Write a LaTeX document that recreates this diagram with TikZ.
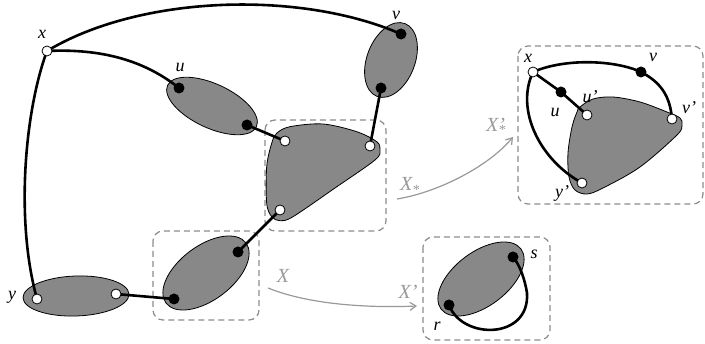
\documentclass[tikz,border=0pt]{standalone}
\usepackage{fontspec}
\setmainfont{Liberation Serif}
\usetikzlibrary{arrows.meta}
\definecolor{blobgray}{HTML}{888888}
\definecolor{boxgray}{HTML}{8C8C8C}
\definecolor{arrgray}{HTML}{999999}
\begin{document}
\begin{tikzpicture}[x=1pt,y=-1pt,
 blob/.style={fill=blobgray,draw=black,line width=0.8pt},
 edge/.style={line width=2.6pt},
 openv/.style={circle,draw=black,fill=white,line width=0.8pt,inner sep=0pt,minimum size=10pt},
 fullv/.style={circle,fill=black,inner sep=0pt,minimum size=11pt},
 dbox/.style={draw=boxgray,line width=1.2pt,dash pattern=on 6pt off 4pt,rounded corners=10pt},
 garrow/.style={draw=arrgray,line width=1.2pt,-{Straight Barb[length=6pt,width=8pt]}},
 lab/.style={font=\fontsize{18}{20}\selectfont\itshape,inner sep=0pt},
 glab/.style={inner sep=0pt,text=arrgray,font=\fontsize{20}{22}\selectfont\itshape}]
\useasboundingbox (0,0) rectangle (705,344);

% vertex positions
\coordinate (x) at (47,51);
\coordinate (u1) at (179,88);
\coordinate (u2) at (247,125);
\coordinate (v1) at (401,34);
\coordinate (v2) at (381,88);
\coordinate (t1) at (285,141);
\coordinate (t2) at (370,146);
\coordinate (t3) at (280,210);
\coordinate (l1) at (238,252);
\coordinate (l2) at (174,299);
\coordinate (y1) at (37,299);
\coordinate (y2) at (116,294);
\coordinate (x2) at (533,72);
\coordinate (ru) at (561,92);
\coordinate (up) at (587,115);
\coordinate (rv) at (641,72);
\coordinate (vp) at (672,119);
\coordinate (yp) at (582,183);
\coordinate (r) at (449,305);
\coordinate (s) at (513,257);

% dashed boxes
\draw[dbox] (265,120) rectangle (386,231);
\draw[dbox] (153,231) rectangle (259,320);
\draw[dbox] (518,46) rectangle (703,204);
\draw[dbox] (423,237) rectangle (550,340);

% blobs
\draw[blob, rotate around={-25:(212,106)}] (212,106) ellipse [x radius=49, y radius=22];
\draw[blob, rotate around={69:(391,60)}] (391,60) ellipse [x radius=39, y radius=24];
\draw[blob, rotate around={37:(206,273)}] (206,273) ellipse [x radius=50, y radius=27];
\draw[blob, rotate around={2:(76,296)}] (76,296) ellipse [x radius=53, y radius=20];
\draw[blob, rotate around={37:(481,279)}] (481,279) ellipse [x radius=50, y radius=27];
\draw[blob] plot[smooth cycle, tension=0.55] coordinates {(276.7,133.3) (290,126.7) (323,124) (356.7,131.7) (376.7,141.7) (380,150) (375,160) (335,188) (293,216.7) (280,220.7) (271.7,216.7) (266.7,203.3) (266.7,166.7) (271.7,143.3)};
\draw[blob] plot[smooth cycle, tension=0.55] coordinates {(580,107) (593,99) (613,97) (640,102) (667,112) (680,118) (682,125) (677,135) (640,167) (603,188) (587,194) (575,190) (569,177) (568,153) (572,127) (577,112)};

% edges, left graph
\draw[edge] (x) .. controls (140,-5) and (300,-10) .. (v1);
\draw[edge] (x) .. controls (110,48) and (150,65) .. (u1);
\draw[edge] (x) .. controls (25,110) and (15,220) .. (y1);
\draw[edge] (u2) -- (t1);
\draw[edge] (v2) -- (t2);
\draw[edge] (t3) -- (l1);
\draw[edge] (l2) -- (y2);

% edges, right graphs
\draw[edge] (x2) -- (ru) -- (up);
\draw[edge] (x2) .. controls (565,58) and (615,60) .. (rv) .. controls (660,82) and (670,95) .. (vp);
\draw[edge] (x2) .. controls (515,110) and (540,160) .. (yp);
\draw[edge] (r) .. controls (462,340) and (530,340) .. (527,293) .. controls (525,280) and (520,265) .. (s);

% vertices
\foreach \n in {u1,u2,v1,v2,l1,l2,ru,rv,r,s} \node[fullv] at (\n) {};
\foreach \n in {x,t1,t2,t3,y1,y2,x2,up,vp,yp} \node[openv] at (\n) {};

% gray arrows
\coordinate (a1) at (268,288);
\coordinate (a2) at (417,306);
\coordinate (b1) at (397,199);
\coordinate (b2) at (513,137);
\draw[garrow] (a1) .. controls (310,305) and (370,308) .. (a2);
\draw[garrow] (b1) .. controls (440,192) and (490,165) .. (b2);

% labels
\node[lab] (lx) at (42,34) {x};
\node[lab] (lu) at (180,67) {u};
\node[lab] (lv) at (396,15) {v};
\node[lab] (ly) at (12,297) {y};
\node[lab] (lx2) at (528,58) {x};
\node[lab] (lv2) at (653,57) {v};
\node[lab] (lu2) at (555,112) {u};
\node[lab] (lup) at (590,97) {u'};
\node[lab] (lvp) at (689,108) {v'};
\node[lab] (lyp) at (562,193) {y'};
\node[lab] (lr) at (437,326) {r};
\node[lab] (ls) at (534,254) {s};
\node[glab] (gX) at (283,276) {X};
\node[glab] (gXp) at (408,292) {X'};
\node[glab] (gXs) at (410,186) {X\textsubscript{*}};
\node[glab] (gXps) at (496,126) {X\rlap{'}\textsubscript{*}};
\end{tikzpicture}
\end{document}
